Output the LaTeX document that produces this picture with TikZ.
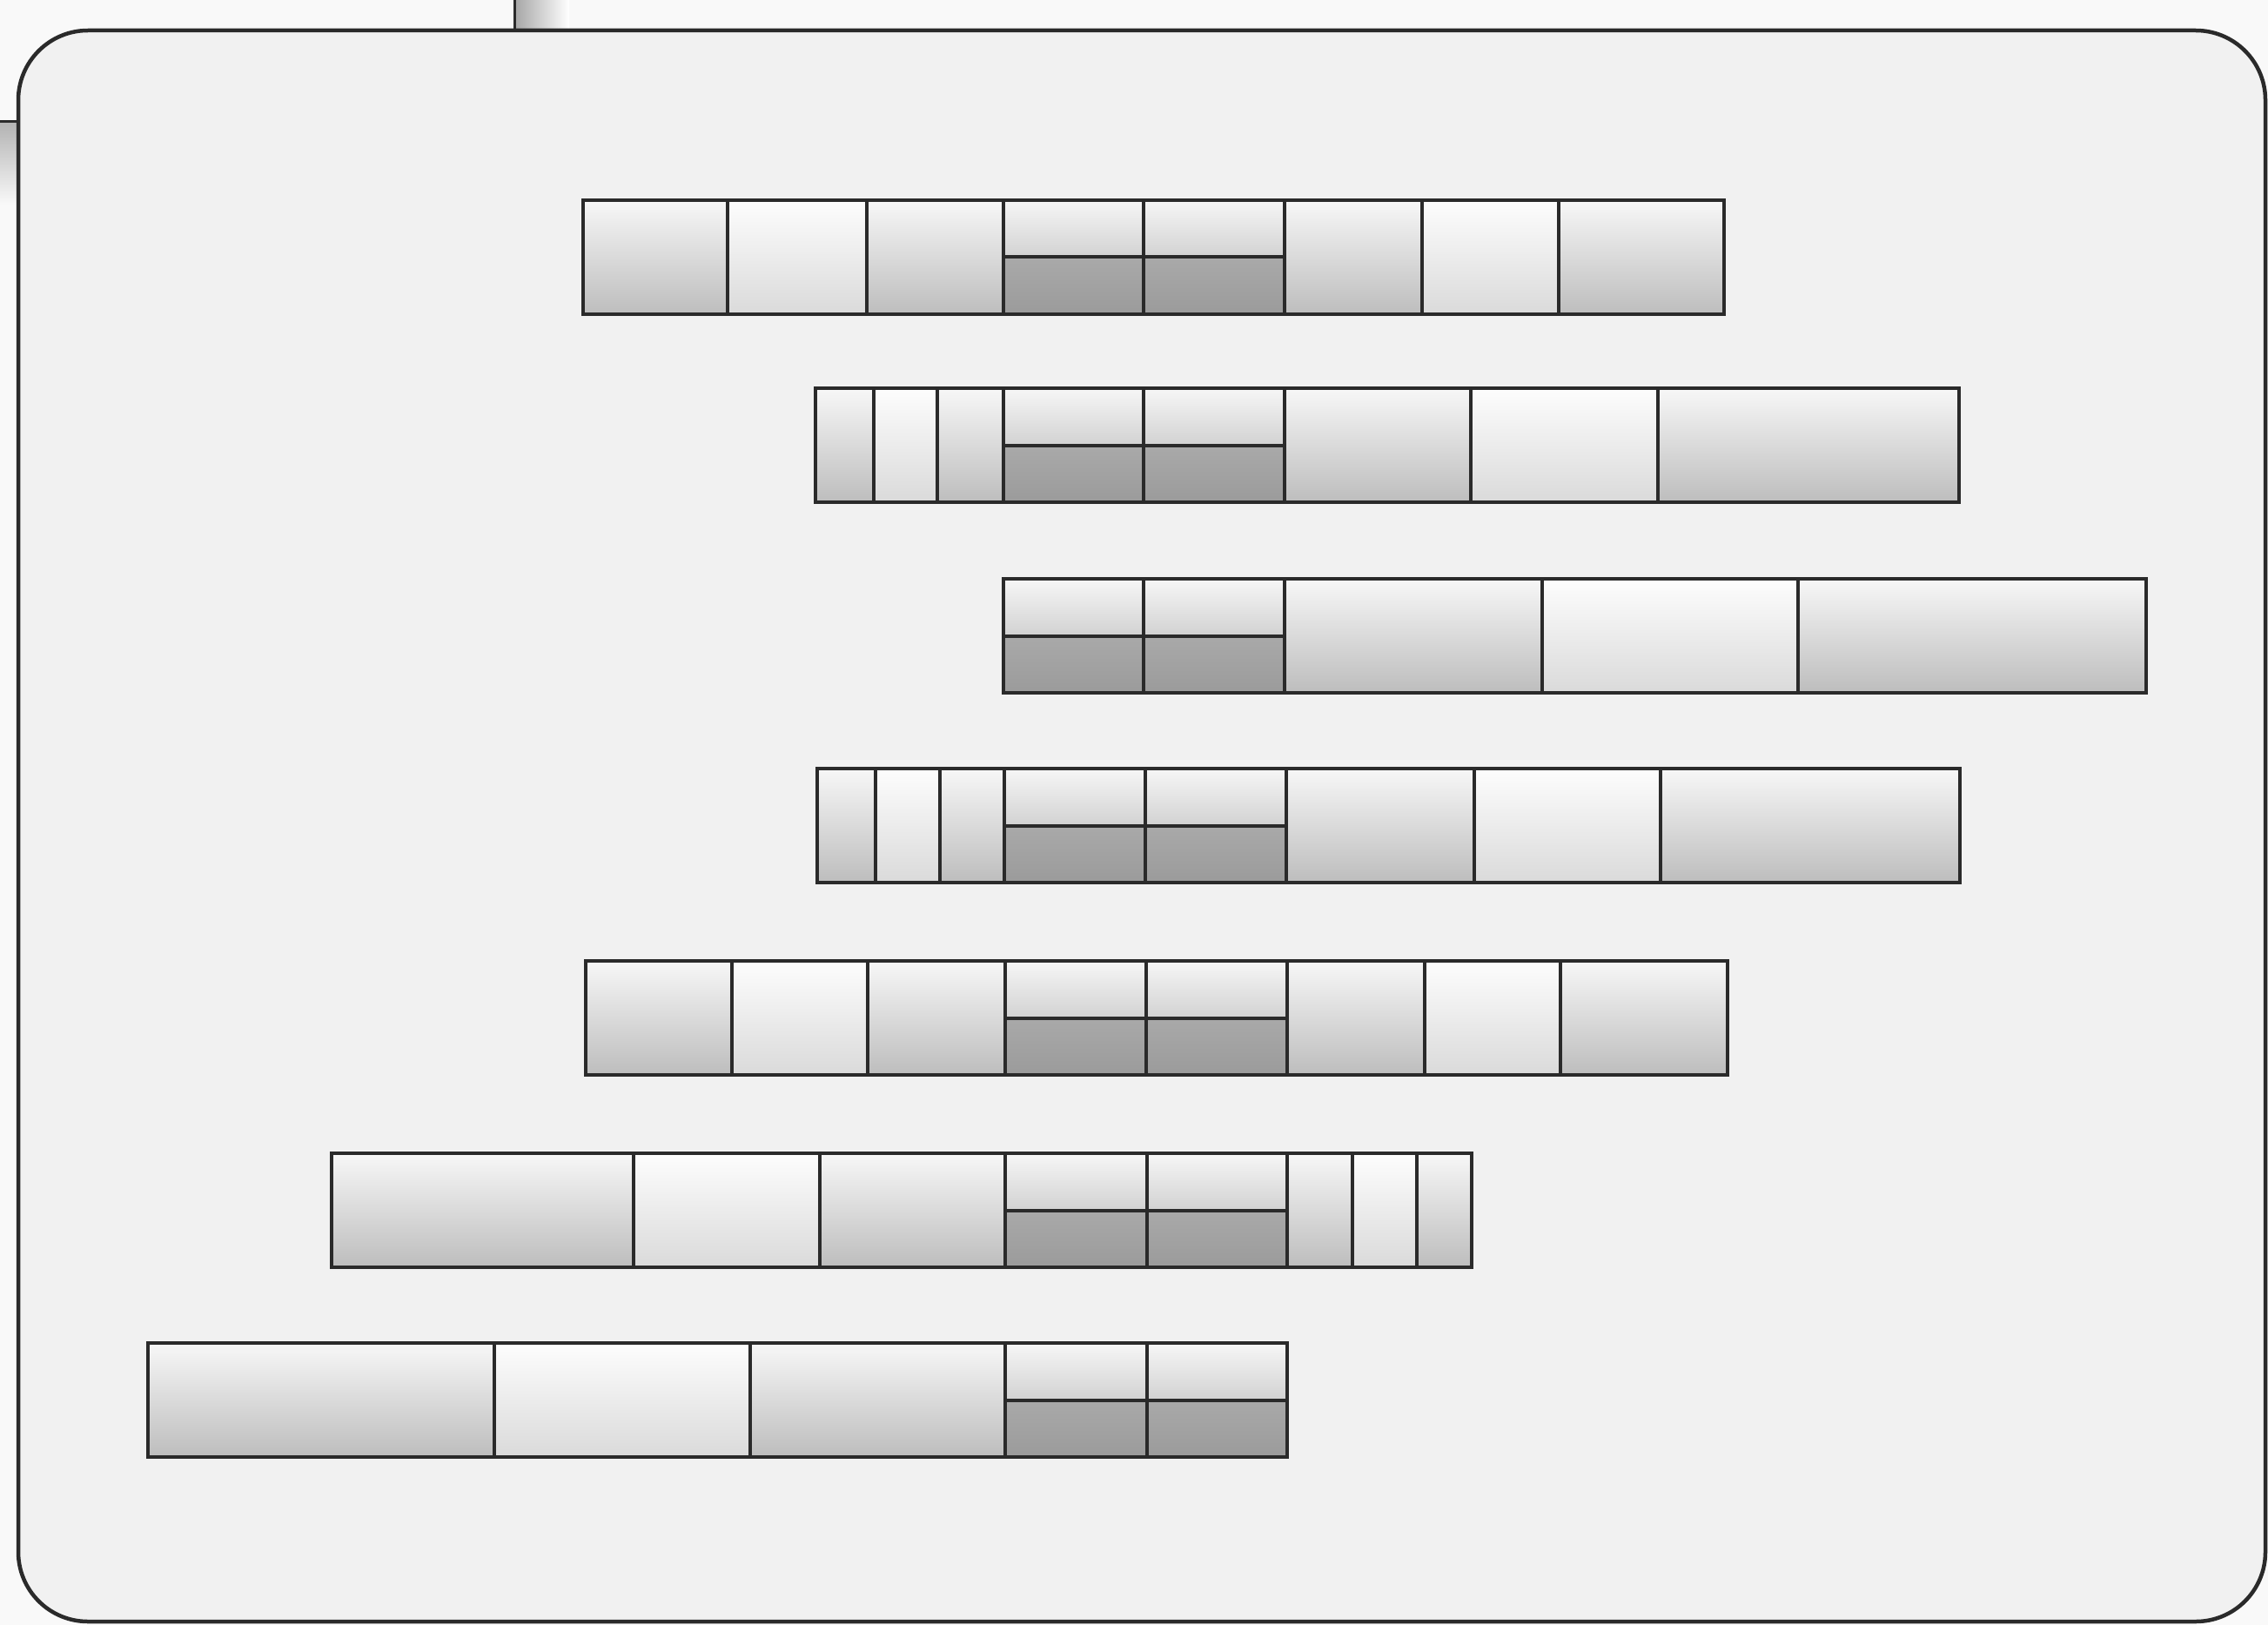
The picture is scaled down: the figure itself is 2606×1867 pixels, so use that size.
\documentclass[tikz,border=0pt]{standalone}
\usetikzlibrary{shadings}
\definecolor{pagebg}{HTML}{F9F9F9}
\definecolor{framebg}{HTML}{F1F1F1}
\definecolor{ink}{HTML}{2A2A2A}
\definecolor{gtop}{HTML}{F7F7F7}
\definecolor{gmid}{HTML}{DCDCDC}
\definecolor{gbot}{HTML}{BDBDBD}
\definecolor{ltop}{HTML}{FDFDFD}
\definecolor{lmid}{HTML}{F0F0F0}
\definecolor{lbot}{HTML}{DADADA}
\definecolor{stop}{HTML}{F6F6F6}
\definecolor{sbot}{HTML}{D2D2D2}
\definecolor{dtop}{HTML}{A9A9A9}
\definecolor{dbot}{HTML}{9B9B9B}
\tikzset{
  frame/.style={draw=ink,line width=4.5pt,rounded corners=80pt,fill=framebg},
  gcell/.style={draw=ink,line width=4pt,top color=gtop,middle color=gmid,bottom color=gbot},
  lcell/.style={draw=ink,line width=4pt,top color=ltop,middle color=lmid,bottom color=lbot},
  scelltop/.style={draw=ink,line width=4pt,top color=stop,bottom color=sbot},
  scellbot/.style={draw=ink,line width=4pt,top color=dtop,bottom color=dbot},
}
\newcommand\CellG[3]{\path[gcell] (#1,#3) rectangle (#2,#3+131);}
\newcommand\CellL[3]{\path[lcell] (#1,#3) rectangle (#2,#3+131);}
\newcommand\CellS[3]{\path[scelltop] (#1,#3) rectangle (#2,#3+65.5);
  \path[scellbot] (#1,#3+65.5) rectangle (#2,#3+131);}
\begin{document}
\begin{tikzpicture}[x=1pt,y=-1pt]
\useasboundingbox (0,0) rectangle (2606,1867);
\fill[pagebg] (0,0) rectangle (2606,1867);
% fragments of neighbouring pages
\path[left color=black!35,right color=white] (591,0) rectangle (654,35);
\draw[ink,line width=3pt] (591,0) -- (591,35);
\path[top color=black!30,bottom color=pagebg] (0,140) rectangle (20,235);
\draw[ink,line width=3pt] (0,140) -- (21,140);
% frame
\path[frame] (21,35) rectangle (2603,1863);
% bar 1
\CellG{670}{836}{230} \CellL{836}{996}{230} \CellG{996}{1153}{230}
\CellS{1153}{1314}{230} \CellS{1314}{1476}{230}
\CellG{1476}{1634}{230} \CellL{1634}{1791}{230} \CellG{1791}{1981}{230}
% bar 2
\CellG{937}{1004}{446} \CellL{1004}{1077}{446} \CellG{1077}{1153}{446}
\CellS{1153}{1314}{446} \CellS{1314}{1476}{446}
\CellG{1476}{1690}{446} \CellL{1690}{1905}{446} \CellG{1905}{2251}{446}
% bar 3
\CellS{1153}{1314}{665} \CellS{1314}{1476}{665}
\CellG{1476}{1772}{665} \CellL{1772}{2066}{665} \CellG{2066}{2466}{665}
% bar 4
\CellG{939}{1006}{883} \CellL{1006}{1080}{883} \CellG{1080}{1154}{883}
\CellS{1154}{1316}{883} \CellS{1316}{1478}{883}
\CellG{1478}{1694}{883} \CellL{1694}{1908}{883} \CellG{1908}{2252}{883}
% bar 5
\CellG{673}{841}{1104} \CellL{841}{997}{1104} \CellG{997}{1155}{1104}
\CellS{1155}{1317}{1104} \CellS{1317}{1479}{1104}
\CellG{1479}{1637}{1104} \CellL{1637}{1793}{1104} \CellG{1793}{1985}{1104}
% bar 6
\CellG{381}{728}{1325} \CellL{728}{942}{1325} \CellG{942}{1155}{1325}
\CellS{1155}{1318}{1325} \CellS{1318}{1479}{1325}
\CellG{1479}{1554}{1325} \CellL{1554}{1628}{1325} \CellG{1628}{1691}{1325}
% bar 7
\CellG{170}{568}{1543} \CellL{568}{862}{1543} \CellG{862}{1155}{1543}
\CellS{1155}{1318}{1543} \CellS{1318}{1479}{1543}
\end{tikzpicture}
\end{document}
